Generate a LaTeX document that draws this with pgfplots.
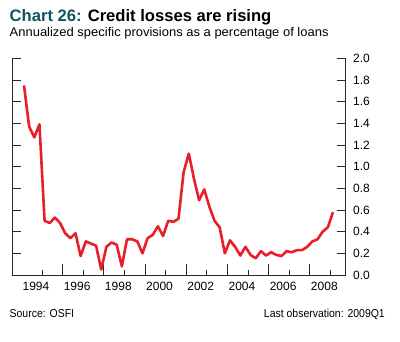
\documentclass[border=0pt]{standalone}
\usepackage{pgfplots}
\pgfplotsset{compat=1.18}
\usepackage{fontspec}
\setmainfont{Liberation Sans}
\newfontfamily\wideff{Liberation Sans}[FakeStretch=1.03]
\newfontfamily\narrowff{Liberation Sans}[FakeStretch=0.91]
\definecolor{linered}{RGB}{232,30,40}
\definecolor{titleteal}{RGB}{16,84,100}
\definecolor{axisgray}{RGB}{40,40,40}
\begin{document}
\begin{tikzpicture}
\path[use as bounding box] (0,0) rectangle (400bp,-342bp);
\node[anchor=base west, inner sep=0pt, font=\fontsize{16.6bp}{18bp}\selectfont\bfseries] at (9.5bp,-21.7bp) {\textcolor{titleteal}{Chart 26:} Credit losses are rising};
\node[anchor=base west, inner sep=0pt, font=\wideff\fontsize{12.6bp}{14bp}\selectfont] at (9.5bp,-36.7bp) {Annualized specific provisions as a percentage of loans};
\node[anchor=base west, inner sep=0pt, font=\narrowff\fontsize{11.5bp}{13bp}\selectfont] at (9.5bp,-317.5bp) {Source: OSFI};
\node[anchor=base east, inner sep=0pt, font=\narrowff\fontsize{11.5bp}{13bp}\selectfont] at (385bp,-317.5bp) {Last observation: 2009Q1};
\begin{axis}[
  at={(12bp,-275bp)}, anchor=south west,
  scale only axis, width=333.7bp, height=216.7bp,
  xmin=-2.33, xmax=62.47, ymin=0, ymax=2,
  axis x line=bottom, axis y line=box,
  axis line style={-, draw=axisgray, line width=0.8bp},
  tick align=inside,
  major tick length=9bp,
  xtick={2.32,10.32,18.32,26.32,34.32,42.32,50.32,58.32},
  xticklabels={1994,1996,1998,2000,2002,2004,2006,2008},
  xtick style={draw=none},
  ytick={0,0.2,0.4,0.6,0.8,1.0,1.2,1.4,1.6,1.8,2.0},
  ytick style={draw=axisgray, line width=0.8bp},
  yticklabel pos=right,
  yticklabel style={/pgf/number format/fixed, /pgf/number format/fixed zerofill, /pgf/number format/precision=1, xshift=4bp},
  /pgf/number format/assume math mode=true,
  tick label style={font=\fontsize{12bp}{14bp}\selectfont},
  xticklabel style={yshift=-4bp},
]
\pgfplotsinvokeforeach{7.5,15.5,23.5,31.5,39.5,47.5,55.5}{
  \draw[axisgray, line width=0.8bp] (axis cs:#1,0) -- ++(0pt,11bp);
}
\pgfplotsinvokeforeach{3.5,11.5,19.5,27.5,35.5,43.5,51.5,59.5}{
  \draw[axisgray, line width=0.8bp] (axis cs:#1,0) -- ++(0pt,5bp);
}
\addplot[linered, line width=2.6bp, line join=round] table {
x y
0 1.75
1 1.37
2 1.27
3 1.39
4 0.50
5 0.48
6 0.53
7 0.48
8 0.385
9 0.34
10 0.385
11 0.175
12 0.31
13 0.29
14 0.27
15 0.05
16 0.26
17 0.30
18 0.28
19 0.08
20 0.33
21 0.33
22 0.31
23 0.20
24 0.34
25 0.37
26 0.45
27 0.36
28 0.50
29 0.49
30 0.52
31 0.95
32 1.12
33 0.89
34 0.69
35 0.79
36 0.63
37 0.50
38 0.44
39 0.20
40 0.32
41 0.26
42 0.18
43 0.26
44 0.185
45 0.154
46 0.22
47 0.18
48 0.21
49 0.185
50 0.175
51 0.22
52 0.21
53 0.23
54 0.23
55 0.26
56 0.31
57 0.33
58 0.40
59 0.44
60 0.58
};
\end{axis}
\end{tikzpicture}
\end{document}
